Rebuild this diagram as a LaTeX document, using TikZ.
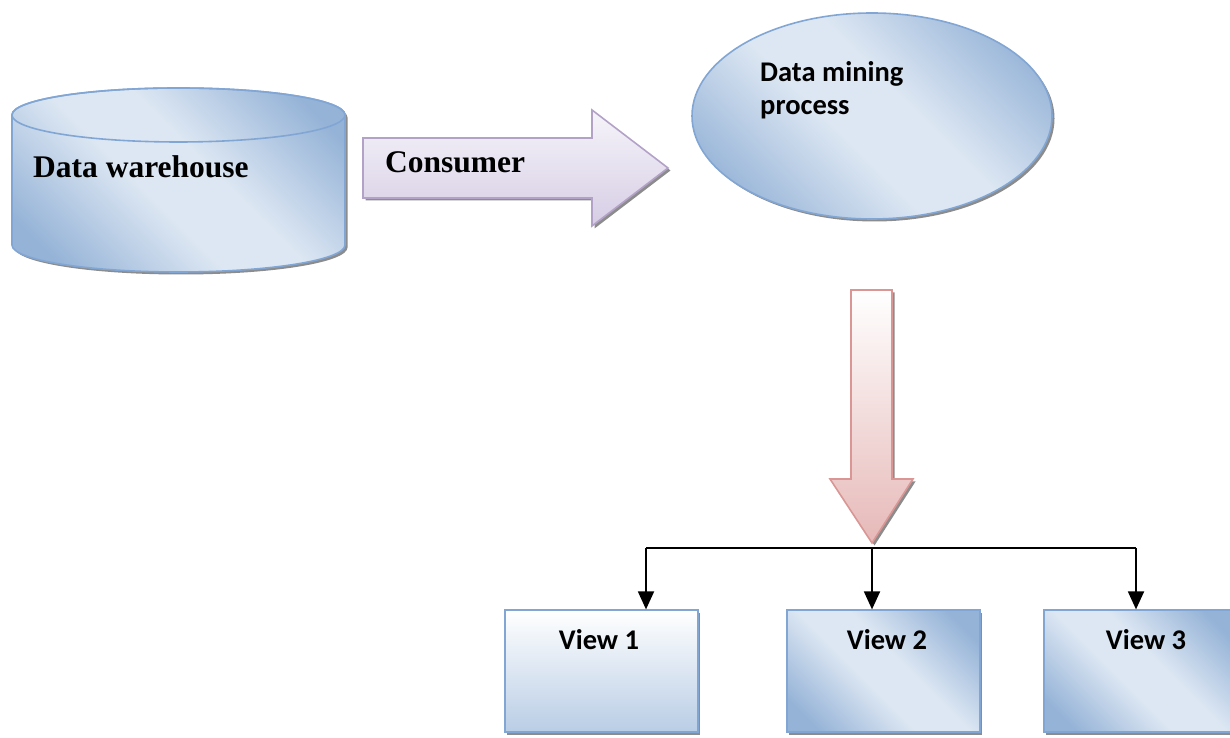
\documentclass[tikz,border=0pt]{standalone}
\usepackage{fontspec}
\setmainfont{Liberation Serif}
\newfontfamily\calib{Carlito}
\usetikzlibrary{shadows,arrows.meta}
\definecolor{bdark}{RGB}{149,179,215}
\definecolor{blight}{RGB}{221,231,243}
\definecolor{bline}{RGB}{130,166,212}
\definecolor{lavline}{RGB}{179,162,199}
\definecolor{lavtop}{RGB}{246,244,250}
\definecolor{lavbot}{RGB}{214,205,228}
\definecolor{pinkline}{RGB}{217,150,148}
\definecolor{pinkbot}{RGB}{230,185,184}
\definecolor{v1bot}{RGB}{185,205,229}
\pgfdeclarehorizontalshading{bluediag}{100bp}{color(0bp)=(bdark); color(22bp)=(bdark); color(44bp)=(blight); color(56bp)=(blight); color(78bp)=(bdark); color(100bp)=(bdark)}
\begin{document}
\begin{tikzpicture}[x=1pt,y=1pt,
  shad/.style={drop shadow={shadow xshift=2.5pt, shadow yshift=-2.5pt, fill=black!45, opacity=1}},
  blueshape/.style={draw=bline, line width=1.6pt, shading=bluediag, shading angle=45},
  lavshape/.style={draw=lavline, line width=1.6pt, top color=lavtop, bottom color=lavbot},
  pinkshape/.style={draw=pinkline, line width=1.6pt, top color=white, bottom color=pinkbot},
  viewbox/.style={blueshape, shad, anchor=south west, inner sep=0pt, minimum width=193pt, minimum height=122pt},
  timesbold/.style={font=\bfseries\fontsize{31.5}{36}\selectfont},
  calbold/.style={font=\calib\bfseries\fontsize{28.5}{33}\selectfont},
  link/.style={draw=black, line width=1.8pt},
  linkarrow/.style={link, -{Triangle[length=18pt,width=16pt]}}
]
\useasboundingbox (0,0) rectangle (1230,738);

% Data warehouse cylinder
\draw[blueshape, shad] (12,623) -- (12,493)
  arc[start angle=180, end angle=360, x radius=166.5, y radius=27]
  -- (345,623)
  arc[start angle=0, end angle=180, x radius=166.5, y radius=27] -- cycle;
\draw[draw=bline, line width=1.6pt] (178.5,623) ellipse [x radius=166.5, y radius=27];
\node[timesbold, anchor=base west, inner sep=0pt] (dw) at (33,560) {Data warehouse};

% Consumer arrow
\draw[lavshape, shad] (363,600) -- (592,600) -- (592,628) -- (668,570)
  -- (592,512) -- (592,540) -- (363,540) -- cycle;
\node[timesbold, anchor=base west, inner sep=0pt] (cons) at (385,565) {Consumer};

% Data mining process ellipse
\draw[blueshape, shad] (872,622) ellipse [x radius=180, y radius=103];
\node[calbold, anchor=base west, align=left, inner sep=0pt] (dm) at (760,623) {Data mining\\process};

% Down arrow
\draw[pinkshape, shad] (851,448) -- (892,448) -- (892,259) -- (913,259)
  -- (872,195) -- (830,259) -- (851,259) -- cycle;

% View boxes
\node[viewbox, draw=bline, top color=white, bottom color=v1bot, shading angle=0] (v1) at (504,5) {};
\node[viewbox] (v2) at (786,5) {};
\node[viewbox] (v3) at (1043,5) {};
\node[calbold, anchor=base, inner sep=0pt] (l1) at (599,88) {View 1};
\node[calbold, anchor=base, inner sep=0pt] (l2) at (887,88) {View 2};
\node[calbold, anchor=base, inner sep=0pt] (l3) at (1146,88) {View 3};

% Distribution connectors
\coordinate (hl) at (646,190);
\coordinate (hm) at (872,190);
\coordinate (hr) at (1136,190);
\draw[link] (hl) -- (hr);
\draw[linkarrow] (hl) -- (hl |- v1.north);
\draw[linkarrow] (hm) -- (hm |- v2.north);
\draw[linkarrow] (hr) -- (hr |- v3.north);
\end{tikzpicture}
\end{document}
